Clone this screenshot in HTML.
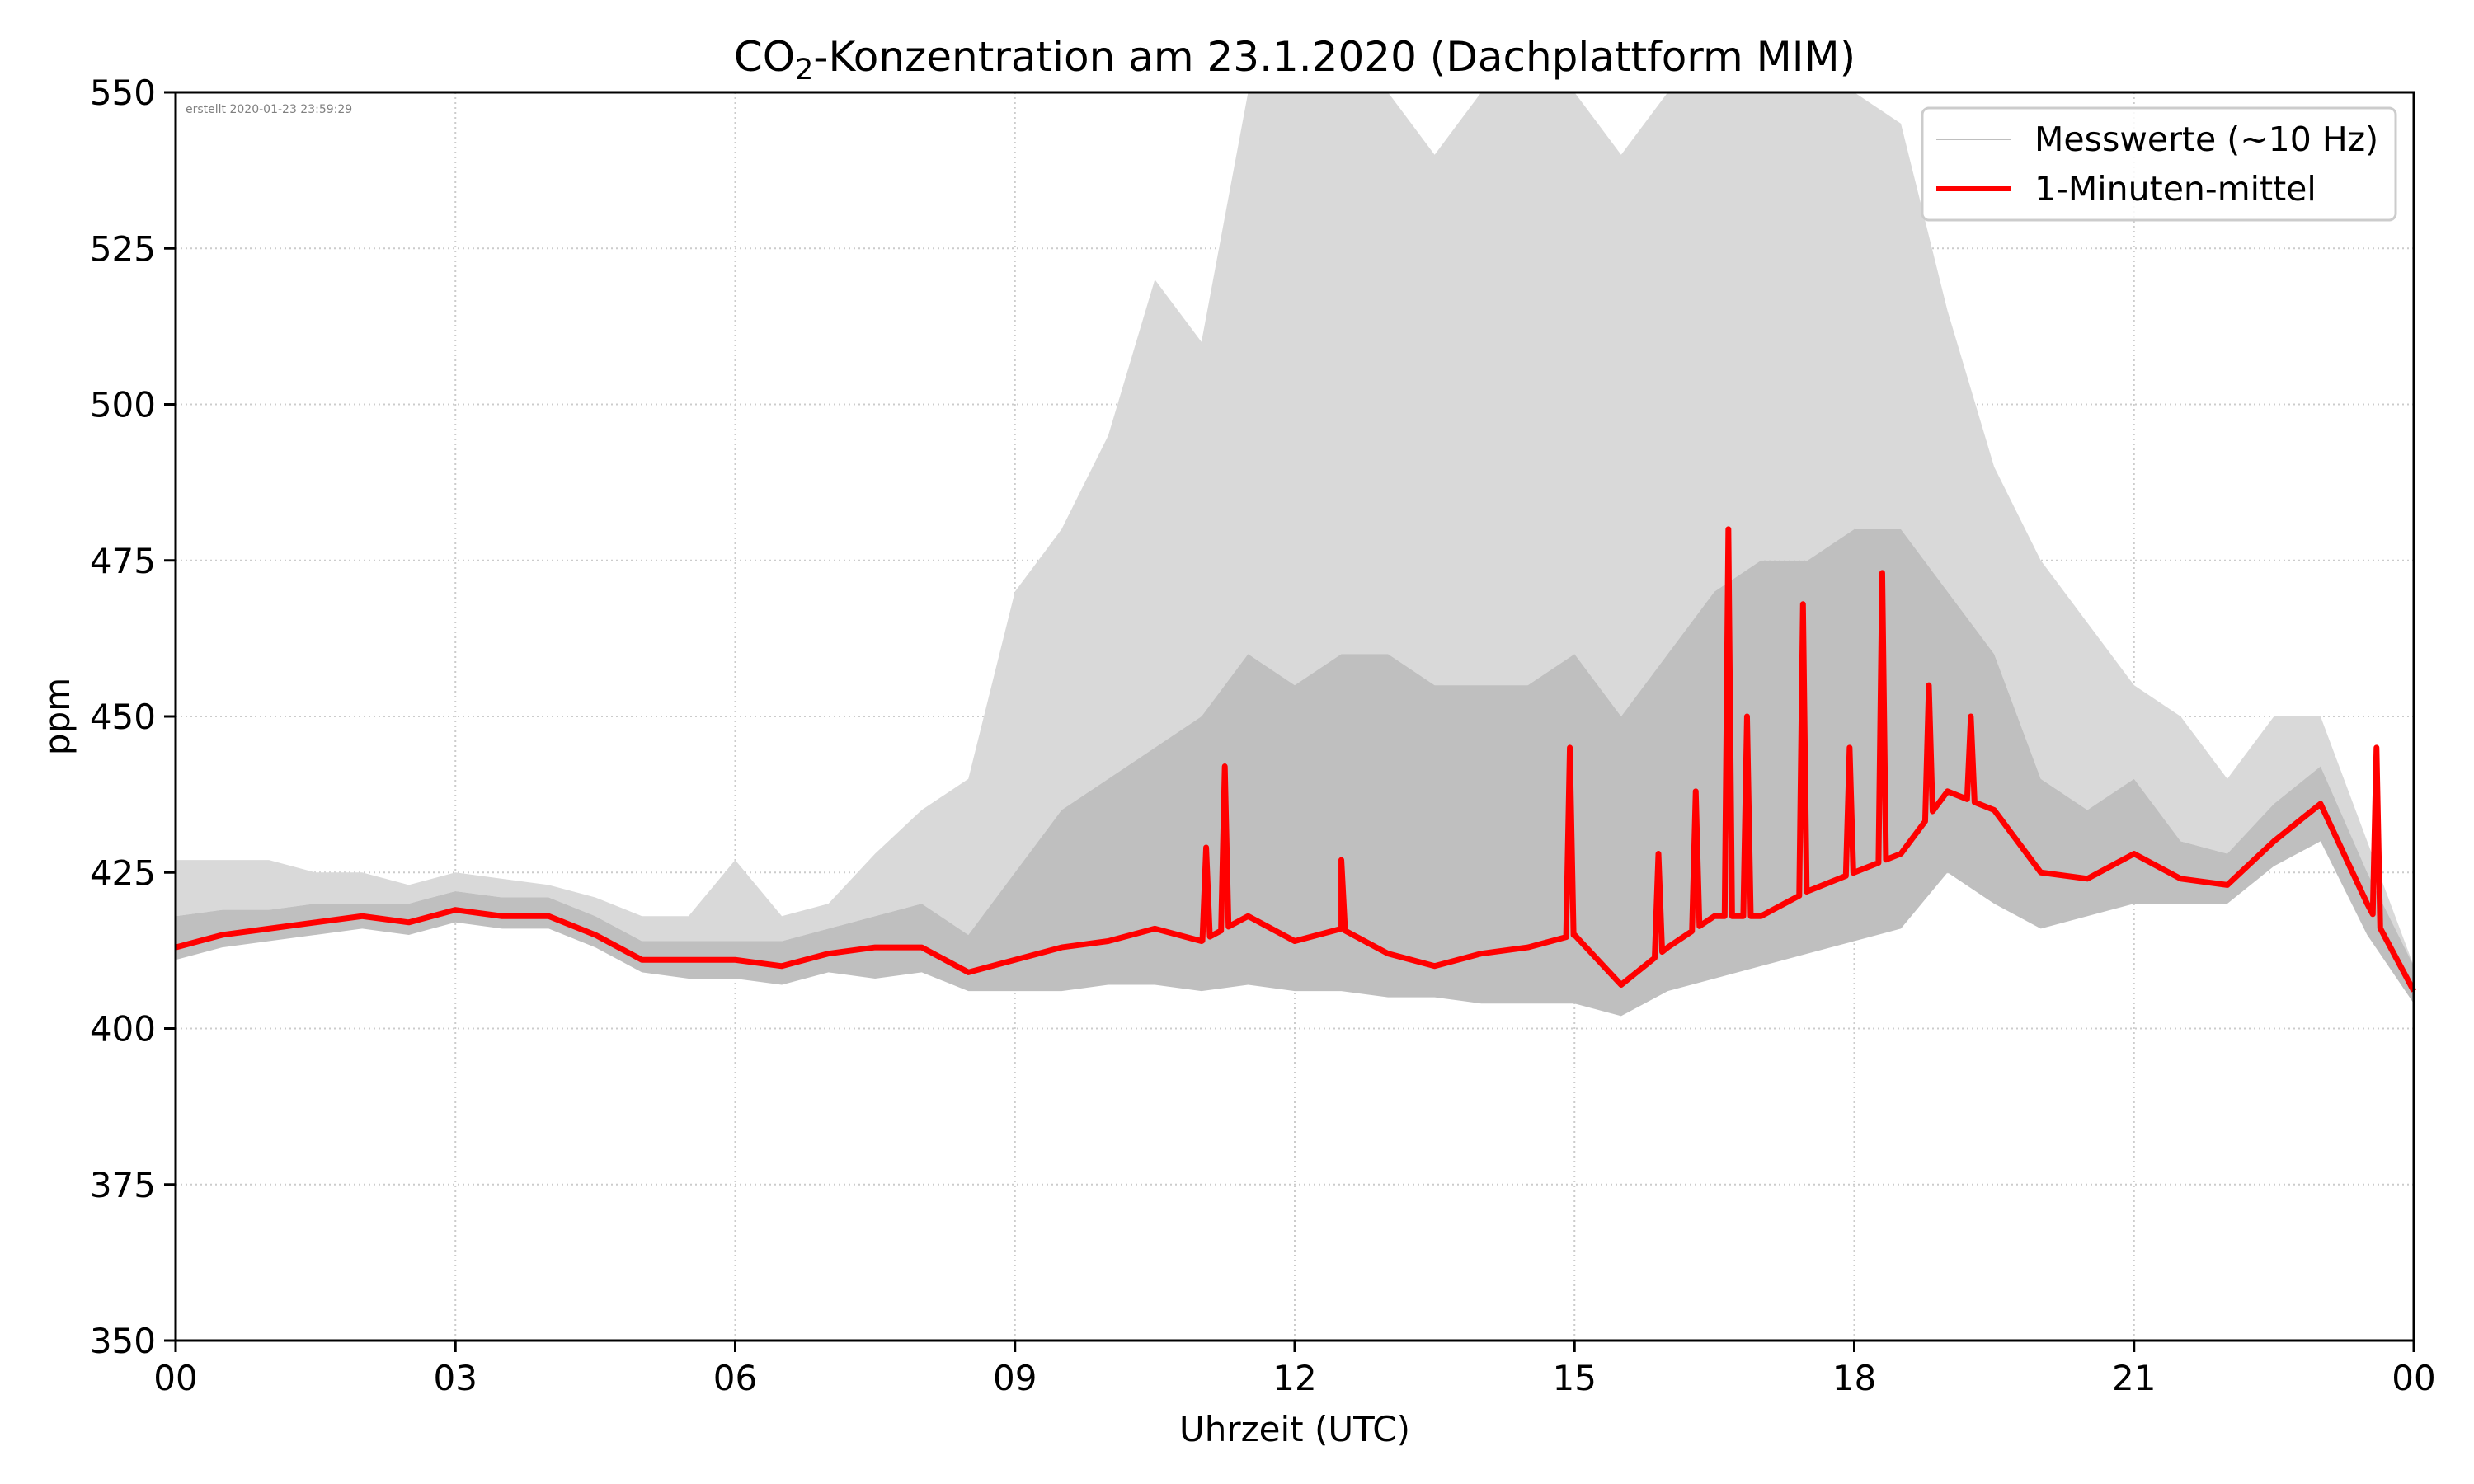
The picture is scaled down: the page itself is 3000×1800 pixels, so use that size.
<!DOCTYPE html>
<html><head><meta charset="utf-8"><style>
html,body{margin:0;padding:0;background:#fff;}
svg{display:block;font-family:"DejaVu Sans","Liberation Sans",sans-serif;}
</style></head><body>
<svg id="chart" width="3000" height="1800" viewBox="0 0 3000 1800" xmlns="http://www.w3.org/2000/svg">
<rect width="3000" height="1800" fill="#fff"/>
<g id="grid"></g>
<g id="series"></g>
<g id="axes"></g>
<text x="1570" y="86" font-size="50" text-anchor="middle">CO<tspan font-size="35" dy="10">2</tspan><tspan dy="-10">-Konzentration am 23.1.2020 (Dachplattform MIM)</tspan></text>
<text x="225" y="137" font-size="14" fill="#808080">erstellt 2020-01-23 23:59:29</text>
<text x="0" y="0" font-size="42" text-anchor="middle" transform="translate(84,869) rotate(-90)">ppm</text>
<text x="1570" y="1748" font-size="42" text-anchor="middle">Uhrzeit (UTC)</text>
<g>
<rect x="2331" y="131" width="574" height="136" rx="8" fill="#fff" fill-opacity="0.85" stroke="#cccccc" stroke-width="3"/>
<line x1="2348" y1="169" x2="2439" y2="169" stroke="#bfbfbf" stroke-width="2"/>
<text x="2467" y="183" font-size="41">Messwerte (~10 Hz)</text>
<line x1="2348" y1="229" x2="2439" y2="229" stroke="#ff0000" stroke-width="6"/>
<text x="2467" y="243" font-size="41">1-Minuten-mittel</text>
</g>
</svg>
<script>
const hours = [0,0.5,1,1.5,2,2.5,3,3.5,4,4.5,5,5.5,6,6.5,7,7.5,8,8.5,9,9.5,10,10.5,11,11.5,12,12.5,13,13.5,14,14.5,15,15.5,16,16.5,17,17.5,18,18.5,19,19.5,20,20.5,21,21.5,22,22.5,23,23.5,24];
const meanValues = [413,415,416,417,418,417,419,418,418,415,411,411,411,410,412,413,413,409,411,413,414,416,414,418,414,416,412,410,412,413,415,407,413,418,418,422,425,428,438,435,425,424,428,424,423,430,436,420,406];
const denseLow = [411,413,414,415,416,415,417,416,416,413,409,408,408,407,409,408,409,406,406,406,407,407,406,407,406,406,405,405,404,404,404,402,406,408,410,412,414,416,425,420,416,418,420,420,420,426,430,415,404];
const denseHigh = [418,419,419,420,420,420,422,421,421,418,414,414,414,414,416,418,420,415,425,435,440,445,450,460,455,460,460,455,455,455,460,450,460,470,475,475,480,480,470,460,440,435,440,430,428,436,442,425,410];
const spikeMax = [427,427,427,425,425,423,425,424,423,421,418,418,427,418,420,428,435,440,470,480,495,520,510,550,550,550,550,540,550,550,550,540,550,550,550,550,550,545,515,490,475,465,455,450,440,450,450,430,410];
const spikeHours = [11.05,11.25,12.5,14.95,15.9,16.3,16.65,16.85,17.45,17.95,18.3,18.8,19.25,23.6];
const spikeValues = [429,442,427,445,428,438,480,450,468,445,473,455,450,445];
const yTicks = [350,375,400,425,450,475,500,525,550];
const xTicks = [0,3,6,9,12,15,18,21,24];
const xTickLabels = ["00","03","06","09","12","15","18","21","00"];

const L=213,R=2927,T=112,B=1626;
const X=h=>L+(R-L)*h/24;
const Y=v=>T+(B-T)*(550-Math.min(550,Math.max(350,v)))/200;
const NS="http://www.w3.org/2000/svg";
function mk(tag,attrs,parent){const e=document.createElementNS(NS,tag);for(const k in attrs)e.setAttribute(k,attrs[k]);parent.appendChild(e);return e;}
const grid=document.getElementById('grid'),series=document.getElementById('series'),axes=document.getElementById('axes');

yTicks.forEach((v,i)=>{
  const g=mk('line',{x1:L,x2:R,y1:Y(v),y2:Y(v),stroke:'#cccccc','stroke-width':2,'stroke-dasharray':'2,4'},grid);
  
  
  const t=mk('line',{x1:L-14,x2:L,y1:Y(v),y2:Y(v),stroke:'#000','stroke-width':3},axes);
  
  
  const lb=mk('text',{x:L-24,y:Y(v)+15,'font-size':42,'text-anchor':'end'},axes);
  lb.textContent=v;
  
  
});
xTicks.forEach((h,i)=>{
  const g=mk('line',{x1:X(h),x2:X(h),y1:T,y2:B,stroke:'#cccccc','stroke-width':2,'stroke-dasharray':'2,4'},grid);
  
  
  const t=mk('line',{x1:X(h),x2:X(h),y1:B,y2:B+14,stroke:'#000','stroke-width':3},axes);
  
  
  const lb=mk('text',{x:X(h),y:B+60,'font-size':42,'text-anchor':'middle'},axes);
  lb.textContent=xTickLabels[i];
  
  
});

function band(lo,hi){
  let d='M'+hours.map((h,i)=>X(h)+','+Y(hi[i])).join(' L');
  for(let i=hours.length-1;i>=0;i--)d+=' L'+X(hours[i])+','+Y(lo[i]);
  return d+'Z';
}
const sp=mk('path',{d:band(denseHigh,spikeMax),fill:'#d9d9d9'},series);


const db=mk('path',{d:band(denseLow,denseHigh),fill:'#bfbfbf'},series);



function meanAt(h){
  for(let i=0;i<hours.length-1;i++){if(h>=hours[i]&&h<=hours[i+1]){const f=(h-hours[i])/(hours[i+1]-hours[i]);return meanValues[i]+f*(meanValues[i+1]-meanValues[i]);}}
  return meanValues[meanValues.length-1];
}
let pts=hours.map((h,i)=>[h,meanValues[i]]);
spikeHours.forEach((h,i)=>{pts.push([h-0.04,meanAt(h-0.04)]);pts.push([h,spikeValues[i]]);pts.push([h+0.04,meanAt(h+0.04)]);});
pts.sort((a,b)=>a[0]-b[0]);
const red=mk('polyline',{points:pts.map(p=>X(p[0])+','+Y(p[1])).join(' '),fill:'none',stroke:'#ff0000','stroke-width':7,'stroke-linejoin':'round'},series);



const fr=mk('rect',{x:L,y:T,width:R-L,height:B-T,fill:'none',stroke:'#000','stroke-width':3},axes);


</script>
</body></html>
